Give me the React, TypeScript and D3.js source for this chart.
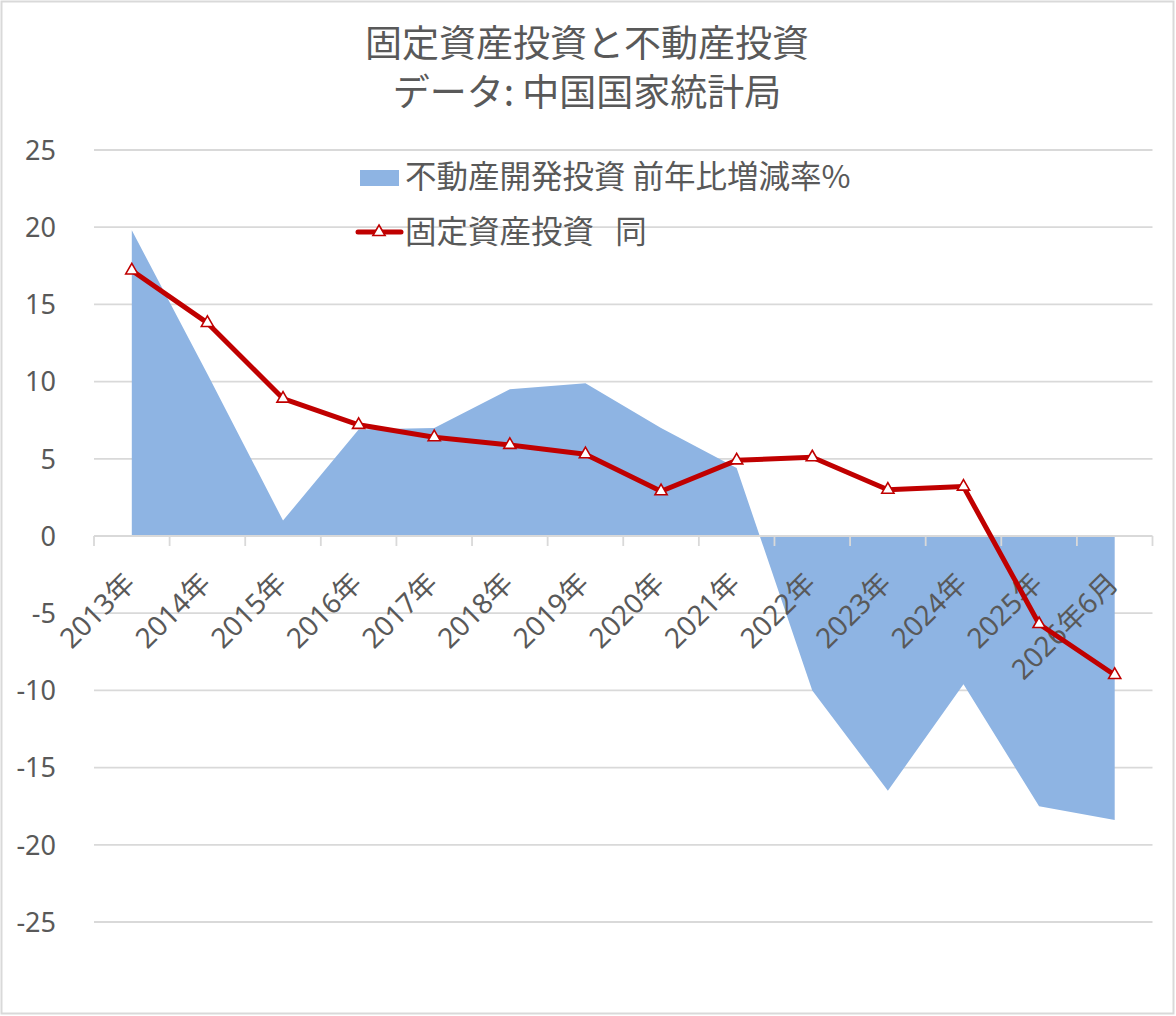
import * as d3 from "d3";

// chart data
const categories = [
  "2013年", "2014年", "2015年", "2016年", "2017年", "2018年", "2019年",
  "2020年", "2021年", "2022年", "2023年", "2024年", "2025年", "2026年6月",
];
// 不動産開発投資 前年比増減率%
const realEstate = [19.8, 10.5, 1.0, 6.9, 7.0, 9.5, 9.9, 7.0, 4.4, -10.0, -16.5, -9.6, -17.5, -18.4];
// 固定資産投資 同
const fixedAsset = [17.2, 13.8, 8.9, 7.2, 6.4, 5.9, 5.3, 2.9, 4.9, 5.1, 3.0, 3.2, -5.7, -9.0];
const yTicks = [25, 20, 15, 10, 5, 0, -5, -10, -15, -20, -25];

const titleLines = ["固定資産投資と不動産投資", "データ: 中国国家統計局"];
const legendArea = "不動産開発投資 前年比増減率%";
const legendLine = "固定資産投資\u00a0\u00a0\u00a0同";

const W = 1176;
const H = 1016;
const textColor = "#595959";
const gridColor = "#d9d9d9";
const areaColor = "#8eb4e3";
const lineColor = "#c00000";
const latin = "'Noto Sans', 'Noto Sans CJK JP', sans-serif";
const cjk = "'Noto Sans CJK JP', 'Noto Sans', sans-serif";

const x = d3.scaleBand<string>().domain(categories).range([94, 1152.5]);
const y = d3.scaleLinear().domain([-25, 25]).range([922, 150]);
const cx = (i: number) => (x(categories[i]) ?? 0) + x.bandwidth() / 2;

const area = d3
  .area<number>()
  .x((_, i) => cx(i))
  .y0(y(0))
  .y1((d) => y(d));

const line = d3
  .line<number>()
  .x((_, i) => cx(i))
  .y((d) => y(d));

const tri = d3.symbol().type(d3.symbolTriangle).size(64)();

const App = () => {
  const tickXs = categories.map((c) => x(c) ?? 0).concat([x.range()[1]]);

  return (
    <div style={{ position: "absolute", left: 0, top: 0 }}>
      <svg width={W} height={H}>
        <rect x={1.5} y={1.5} width={W - 4} height={H - 4} fill="white" stroke={gridColor} strokeWidth={2} />

        {titleLines.map((t, i) => (
          <text key={t} x={587} y={57 + i * 49} textAnchor="middle" fill={textColor}
            fontFamily={cjk} fontSize={37}>{t}</text>
        ))}

        {/* grid */}
        {yTicks.map((t) => (
          <g key={t}>
            {t !== 0 && (
              <line x1={94} x2={1152.5} y1={y(t)} y2={y(t)} stroke={gridColor} strokeWidth={1.8} />
            )}
            <text x={56} y={y(t)} dy="0.36em" textAnchor="end" fill={textColor}
              fontFamily={latin} fontSize={27}>{t}</text>
          </g>
        ))}

        <path d={area(realEstate) ?? ""} fill={areaColor} />

        {/* category axis */}
        <line x1={94} x2={1152.5} y1={y(0)} y2={y(0)} stroke={gridColor} strokeWidth={1.8} />
        {tickXs.map((tx, i) => (
          <line key={i} x1={tx} x2={tx} y1={y(0)} y2={y(0) + 10} stroke={gridColor} strokeWidth={1.8} />
        ))}
        {categories.map((c, i) => (
          <text key={c} transform={`translate(${cx(i) + 5},${585}) rotate(-45)`} textAnchor="end"
            fill={textColor} fontFamily={latin} fontSize={28}>{c}</text>
        ))}

        <path d={line(fixedAsset) ?? ""} fill="none" stroke={lineColor} strokeWidth={5} strokeLinejoin="round" />
        {fixedAsset.map((v, i) => (
          <path key={i} d={tri ?? ""} transform={`translate(${cx(i)},${y(v)})`}
            fill="white" stroke={lineColor} strokeWidth={1.6} />
        ))}

        {/* legend */}
        <rect x={360} y={170} width={39} height={16} fill={areaColor} />
        <text x={405} y={188} fill={textColor} fontFamily={cjk} fontSize={31.5}>{legendArea}</text>
        <line x1={358} x2={401} y1={232} y2={232} stroke={lineColor} strokeWidth={5} strokeLinecap="round" />
        <path d={tri ?? ""} transform="translate(379,232)" fill="white" stroke={lineColor} strokeWidth={1.6} />
        <text x={405} y={243} fill={textColor} fontFamily={cjk} fontSize={31.5}>{legendLine}</text>
      </svg>
    </div>
  );
};

export default App;
